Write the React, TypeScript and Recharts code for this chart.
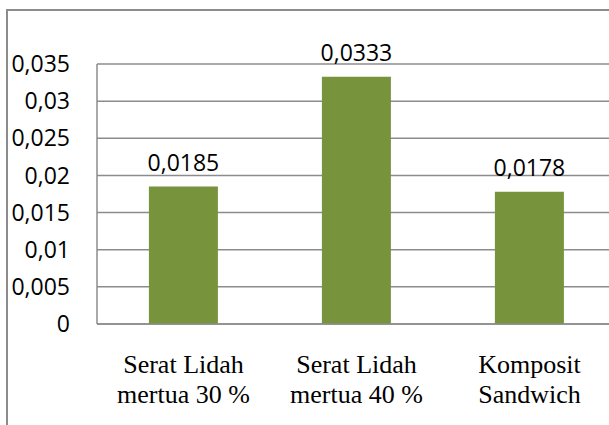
import React from 'react';
import { BarChart, Bar, XAxis, YAxis, CartesianGrid, LabelList } from 'recharts';

const categories = ['Serat Lidah\nmertua 30 %', 'Serat Lidah\nmertua 40 %', 'Komposit\nSandwich'];
const values = [0.0185, 0.0333, 0.0178];
const valueLabels = ['0,0185', '0,0333', '0,0178'];
const yTicks = [0, 0.005, 0.01, 0.015, 0.02, 0.025, 0.03, 0.035];
const yTickLabels = ['0', '0,005', '0,01', '0,015', '0,02', '0,025', '0,03', '0,035'];

const data = categories.map((name, i) => ({ name, value: values[i], label: valueLabels[i] }));

const sansFont = '"Open Sans", sans-serif';
const serifFont = '"Liberation Serif", "Times New Roman", serif';

const CategoryTick = (props: any) => {
  const { x, y, payload } = props;
  const lines = String(payload.value).split('\n');
  return (
    <text x={x} y={y} textAnchor="middle" fill="#000" fontFamily={serifFont} fontSize={26}>
      {lines.map((line, i) => (
        <tspan key={i} x={x} dy={i === 0 ? 41 : 30}>
          {line}
        </tspan>
      ))}
    </text>
  );
};

const App: React.FC = () => {
  return (
    <div
      style={{
        position: 'fixed',
        left: 0,
        top: 0,
        width: 609,
        height: 425,
        overflow: 'hidden',
        background: '#fff',
      }}
    >
      <div
        style={{
          position: 'absolute',
          left: 6,
          top: 9,
          width: 640,
          height: 460,
          border: '2px solid #8c8c8c',
          boxSizing: 'border-box',
        }}
      />
      <div style={{ position: 'absolute', left: 0, top: 0 }}>
        <BarChart
          width={640}
          height={425}
          data={data}
          margin={{ top: 64, right: 24, left: 0, bottom: 21 }}
          barCategoryGap="30%"
        >
          <CartesianGrid vertical={false} stroke="#8c8c8c" strokeWidth={1.5} />
          <XAxis
            dataKey="name"
            tick={<CategoryTick />}
            tickLine={false}
            axisLine={{ stroke: '#8c8c8c', strokeWidth: 1.5 }}
            interval={0}
            height={80}
          />
          <YAxis
            domain={[0, 0.035]}
            ticks={yTicks}
            tickFormatter={(v: number) => yTickLabels[yTicks.indexOf(v)] ?? String(v)}
            tickLine={false}
            tickSize={0}
            tickMargin={27}
            width={97}
            axisLine={{ stroke: '#8c8c8c', strokeWidth: 1.5 }}
            tick={{ fill: '#000', fontFamily: sansFont, fontSize: 23 }}
          />
          <Bar dataKey="value" fill="#77933C" isAnimationActive={false}>
            <LabelList
              dataKey="label"
              position="top"
              offset={16}
              fill="#000"
              fontFamily={sansFont}
              fontSize={23}
            />
          </Bar>
        </BarChart>
      </div>
    </div>
  );
};

export default App;
